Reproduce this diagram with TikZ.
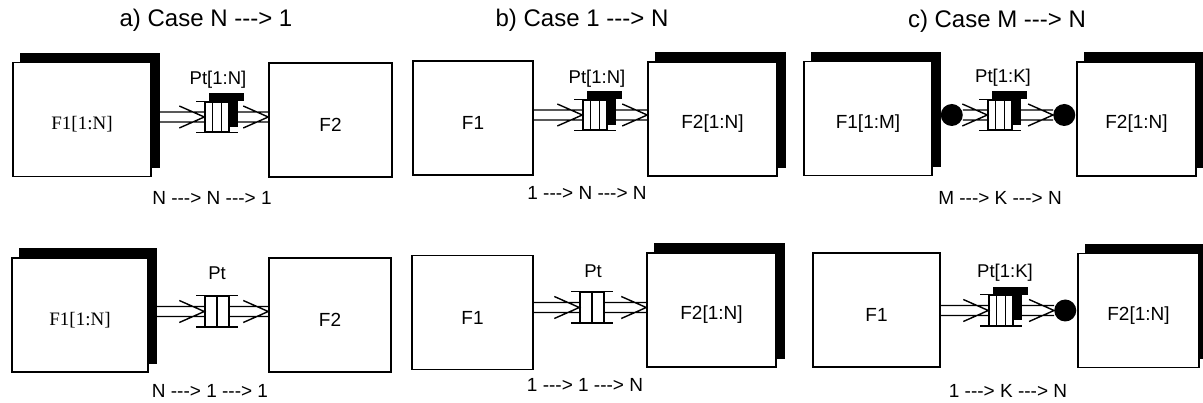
\documentclass[tikz,border=0pt]{standalone}
\usepackage{fontspec}
\setmainfont{Liberation Sans}[Ligatures=TeXOff]
\newfontfamily\serifF{Liberation Serif}[Ligatures=TeXOff]
\usetikzlibrary{calc,shadows,backgrounds}
\tikzset{
  fbox/.style={draw, fill=white, line width=1.5pt, minimum width=#1, minimum height=114pt, inner sep=0pt},
  shadowbox/.style={general shadow={fill=black, draw=black, shadow xshift=8pt, shadow yshift=9pt}},
  boxlbl/.style={font=\fontsize{19}{22}\selectfont, yshift=-5pt},
  serlbl/.style={font=\serifF\fontsize{19}{22}\selectfont, yshift=-5pt},
  qbody/.style={draw, fill=white, line width=1.4pt, minimum width=24pt, minimum height=30pt, inner sep=0pt},
  qline/.style={line width=1.4pt},
  dline/.style={line width=1.4pt},
  dot/.style={circle, fill=black, minimum size=22pt, inner sep=0pt},
  ttl/.style={font=\fontsize{24}{28}\selectfont},
  ptl/.style={font=\fontsize{18.5}{21}\selectfont},
  flow/.style={font=\fontsize{19}{22}\selectfont}
}
\newcommand\qdraw[3]{% name, cells (2 or 3), shadow (1/0)
  \ifnum#3=1
  \begin{pgfonlayer}{background}
    \fill ($(#1.north west)+(5,-8)$) rectangle ($(#1.north east)+(14,0)$);
    \fill (#1.north east) rectangle ($(#1.south east)+(8,-6)$);
  \end{pgfonlayer}
  \fi
  \draw[qline] ($(#1.north west)+(-8,0)$) -- ($(#1.north east)+(8,0)$);
  \draw[qline] ($(#1.south west)+(-8,0)$) -- ($(#1.south east)+(8,0)$);
  \ifnum#2=3
    \draw[qline] ($(#1.north west)!1/3!(#1.north east)$) -- ($(#1.south west)!1/3!(#1.south east)$);
    \draw[qline] ($(#1.north west)!2/3!(#1.north east)$) -- ($(#1.south west)!2/3!(#1.south east)$);
  \else
    \draw[qline] (#1.north) -- (#1.south);
  \fi
}
\newcommand\darrow[2]{% start, tip
  \draw[dline] ($(#1)+(0,-5)$) -- ($(#2)+(0,-5)$)
               ($(#1)+(0,5)$) -- ($(#2)+(0,5)$)
               ($(#2)+(-25,-11)$) -- (#2) -- ($(#2)+(-25,11)$);
}
\begin{document}
\begin{tikzpicture}[x=1pt, y=-1pt]
\useasboundingbox (0,0) rectangle (1203,403);

% ---------- titles ----------
\node[ttl] (ta) at (206,20) {a) Case N -{}-{}-> 1};
\node[ttl] (tb) at (582,20) {b) Case 1 -{}-{}-> N};
\node[ttl] (tc) at (997,21) {c) Case M -{}-{}-> N};

% ---------- panel a, row 1 ----------
\node[fbox=138pt, shadowbox] (a1F1) at (82,119.5) {};
\node[serlbl] (a1F1l) at (a1F1.center) {F1[1:N]};
\node[fbox=123pt] (a1F2) at (330.5,120) {};
\node[boxlbl] (a1F2l) at (a1F2.center) {F2};
\node[qbody] (a1q) at (217,117) {};
\qdraw{a1q}{3}{1}
\node[ptl] (a1p) at (218,80) {Pt[1:N]};
\coordinate (a1s) at (a1F1.east |- a1q.west);
\coordinate (a1t) at (a1F2.west |- a1q.east);
\darrow{a1s}{a1q.west}
\darrow{a1q.east}{a1t}
\node[flow] (a1f) at (212,198) {N -{}-{}-> N -{}-{}-> 1};

% ---------- panel a, row 2 ----------
\node[fbox=136pt, shadowbox] (a2F1) at (80,315) {};
\node[serlbl] (a2F1l) at (a2F1.center) {F1[1:N]};
\node[fbox=122pt] (a2F2) at (330,315) {};
\node[boxlbl] (a2F2l) at (a2F2.center) {F2};
\node[qbody] (a2q) at (217,311.5) {};
\qdraw{a2q}{2}{0}
\node[ptl] (a2p) at (217,273) {Pt};
\coordinate (a2s) at (a2F1.east |- a2q.west);
\coordinate (a2t) at (a2F2.west |- a2q.east);
\darrow{a2s}{a2q.west}
\darrow{a2q.east}{a2t}
\node[flow] (a2f) at (210,391) {N -{}-{}-> 1 -{}-{}-> 1};

% ---------- panel b, row 1 ----------
\node[fbox=120pt] (b1F1) at (473,118) {};
\node[boxlbl] (b1F1l) at (b1F1.center) {F1};
\node[fbox=129pt, shadowbox] (b1F2) at (712.5,119) {};
\node[boxlbl] (b1F2l) at (b1F2.center) {F2[1:N]};
\node[qbody] (b1q) at (595,115) {};
\qdraw{b1q}{3}{1}
\node[ptl] (b1p) at (597,79) {Pt[1:N]};
\coordinate (b1s) at (b1F1.east |- b1q.west);
\coordinate (b1t) at (b1F2.west |- b1q.east);
\darrow{b1s}{b1q.west}
\darrow{b1q.east}{b1t}
\node[flow] (b1f) at (587,193) {1 -{}-{}-> N -{}-{}-> N};

% ---------- panel b, row 2 ----------
\node[fbox=121pt] (b2F1) at (472.5,312.5) {};
\node[boxlbl] (b2F1l) at (b2F1.center) {F1};
\node[fbox=129pt, shadowbox] (b2F2) at (711.5,310) {};
\node[boxlbl] (b2F2l) at (b2F2.center) {F2[1:N]};
\node[qbody] (b2q) at (592,307.5) {};
\qdraw{b2q}{2}{0}
\node[ptl] (b2p) at (593,271) {Pt};
\coordinate (b2s) at (b2F1.east |- b2q.west);
\coordinate (b2t) at (b2F2.west |- b2q.east);
\darrow{b2s}{b2q.west}
\darrow{b2q.east}{b2t}
\node[flow] (b2f) at (585,385) {1 -{}-{}-> 1 -{}-{}-> N};

% ---------- panel c, row 1 ----------
\node[fbox=128pt, shadowbox] (c1F1) at (868,118.5) {};
\node[boxlbl] (c1F1l) at (c1F1.center) {F1[1:M]};
\node[fbox=119pt, shadowbox] (c1F2) at (1136.5,119) {};
\node[boxlbl] (c1F2l) at (c1F2.center) {F2[1:N]};
\node[qbody] (c1q) at (1000,115) {};
\qdraw{c1q}{3}{1}
\node[ptl] (c1p) at (1003,78) {Pt[1:K]};
\coordinate (c1a) at (c1F1.east |- c1q.west);
\coordinate (c1b) at (c1F2.west |- c1q.east);
\node[dot] (c1d1) at ($(c1a)+(19,0)$) {};
\node[dot] (c1d2) at ($(c1b)+(-12,0)$) {};
\darrow{c1d1.east}{c1q.west}
\darrow{c1q.east}{c1d2.west}
\node[flow] (c1f) at (1000,198) {M -{}-{}-> K -{}-{}-> N};

% ---------- panel c, row 2 ----------
\node[fbox=127pt] (c2F1) at (876.5,310) {};
\node[boxlbl] (c2F1l) at (c2F1.center) {F1};
\node[fbox=121pt, shadowbox] (c2F2) at (1138.5,310.5) {};
\node[boxlbl] (c2F2l) at (c2F2.center) {F2[1:N]};
\node[qbody] (c2q) at (1001,310.5) {};
\qdraw{c2q}{3}{1}
\node[ptl] (c2p) at (1005,273) {Pt[1:K]};
\coordinate (c2s) at (c2F1.east |- c2q.west);
\coordinate (c2b) at (c2F2.west |- c2q.east);
\node[dot] (c2d) at ($(c2b)+(-12,0)$) {};
\darrow{c2s}{c2q.west}
\darrow{c2q.east}{c2d.west}
\node[flow] (c2f) at (1008,391) {1 -{}-{}-> K -{}-{}-> N};
\end{tikzpicture}
\end{document}
